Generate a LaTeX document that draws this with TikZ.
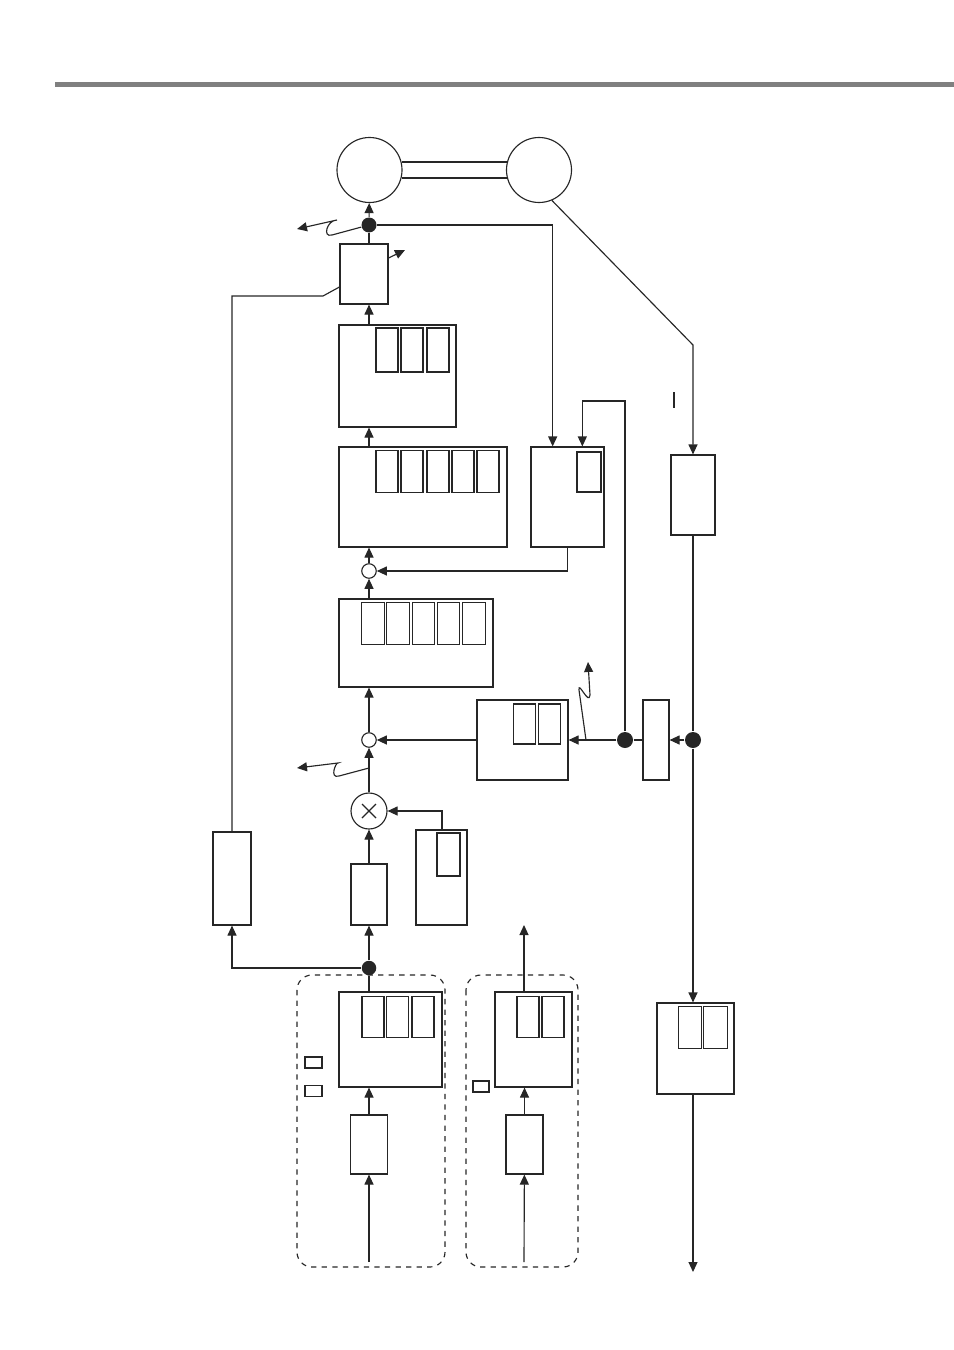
\documentclass[tikz,border=0pt]{standalone}
\usepackage{tikz}
\usetikzlibrary{arrows.meta,calc}

\begin{document}
\begin{tikzpicture}[x=0.2mm,y=-0.2mm,color=black!85,line width=0.65pt,
  >={Triangle[length=2mm,width=1.8mm]},
  blk/.style={draw,rectangle,inner sep=0pt},
  sub/.style={draw,rectangle,inner sep=0pt,minimum width=4.5mm,minimum height=8.3mm},
  dot/.style={circle,fill,inner sep=0pt,minimum size=3mm},
  sumc/.style={circle,draw,fill=white,inner sep=0pt,minimum size=2.9mm}]
  \useasboundingbox (0,0) rectangle (954,1350);
  % header rule
  \draw[line width=1mm,gray] (55,85) -- (954,85);

  % gears and shaft
  \node[circle,draw,inner sep=0pt,minimum size=13mm] (gearL) at (369.5,170) {};
  \node[circle,draw,inner sep=0pt,minimum size=13mm] (gearR) at (539,170) {};
  \draw (gearL.14) -- (gearR.166);
  \draw (gearL.-14) -- (gearR.-166);

  % main chain
  \node[dot] (dotTop) at (369,225) {};
  \node[blk,minimum width=9.6mm,minimum height=12mm] (amp) at (364,274) {};
  \node[blk,minimum width=23.4mm,minimum height=20.4mm] (ctrlA) at (397.5,376) {};
  \foreach \x [count=\i] in {387,412,438}
    \node[sub,minimum width=4.4mm,minimum height=8.8mm] (ctrlA\i) at (\x,350) {};
  \node[blk,minimum width=33.6mm,minimum height=20mm] (ctrlB) at (423,497) {};
  \foreach \x [count=\i] in {387,412,438,463,488}
    \node[sub,minimum width=4.4mm] (ctrlB\i) at (\x,471.5) {};
  \node[blk,minimum width=14.6mm,minimum height=20mm] (ctrlS) at (567.5,497) {};
  \node[sub,minimum width=4.8mm,minimum height=8mm] (ctrlS1) at (589,472) {};
  \node[sumc] (sumA) at (369,571) {};
  \node[blk,minimum width=30.8mm,minimum height=17.6mm] (ctrlC) at (416,643) {};
  \foreach \x [count=\i] in {373,398,423.5,448.5,474}
    \node[sub] (ctrlC\i) at (\x,623.5) {};
  \node[sumc] (sumB) at (369,740) {};
  \node[blk,minimum width=18.2mm,minimum height=16mm] (ctrlD) at (522.5,740) {};
  \foreach \x [count=\i] in {524.5,549.5}
    \node[sub,minimum height=8mm] (ctrlD\i) at (\x,724) {};
  \node[dot,minimum size=3.2mm] (dotM) at (625,740) {};
  \node[blk,minimum width=5.2mm,minimum height=16mm] (sens) at (656,740) {};
  \node[dot,minimum size=3.2mm] (dotR) at (693,740) {};
  \node[blk,minimum width=8.8mm,minimum height=16mm] (enc) at (693,495) {};
  \node[circle,draw,inner sep=0pt,minimum size=7.2mm] (mult) at (369,811) {};
  \draw ($(mult)+(-7,-7)$) -- ($(mult)+(7,7)$);
  \draw ($(mult)+(-7,7)$) -- ($(mult)+(7,-7)$);
  \node[blk,minimum width=7.2mm,minimum height=12.2mm] (gain) at (369,894.5) {};
  \node[blk,minimum width=10.2mm,minimum height=19mm] (ref) at (441.5,877.5) {};
  \node[sub,minimum width=4.6mm,minimum height=8.6mm] (ref1) at (448.5,854.5) {};
  \node[blk,minimum width=7.6mm,minimum height=18.6mm] (lim) at (232,878.5) {};
  \node[dot,minimum size=2.9mm] (dotB) at (369,968) {};

  % input groups
  \draw[dashed,rounded corners=3mm] (297,975) rectangle (445,1267);
  \draw[dashed,rounded corners=3mm] (466,975) rectangle (578,1267);
  \node[blk,minimum width=20.6mm,minimum height=19mm] (inA) at (390.5,1039.5) {};
  \foreach \x [count=\i] in {373,397.5,423}
    \node[sub,minimum width=4.4mm] (inA\i) at (\x,1017) {};
  \node[blk,minimum width=3.4mm,minimum height=2.2mm] (keyA) at (313.5,1062.5) {};
  \node[blk,minimum width=3.4mm,minimum height=2.3mm] (keyB) at (313.5,1091) {};
  \node[blk,minimum width=7.4mm,minimum height=11.8mm] (srcA) at (369,1144.5) {};
  \node[blk,minimum width=15.4mm,minimum height=19mm] (inB) at (533.5,1039.5) {};
  \foreach \x [count=\i] in {528,553}
    \node[sub,minimum width=4.4mm] (inB\i) at (\x,1017) {};
  \node[blk,minimum width=3.2mm,minimum height=2.2mm] (keyC) at (481,1086.5) {};
  \node[blk,minimum width=7.4mm,minimum height=11.8mm] (srcB) at (524.5,1144.5) {};

  % output block
  \node[blk,minimum width=15.4mm,minimum height=18.2mm] (outR) at (695.5,1048.5) {};
  \foreach \x [count=\i] in {690,715.5}
    \node[sub,minimum width=4.7mm] (outR\i) at (\x,1027.5) {};

  \coordinate (feedA) at (369,1262);
  \coordinate (feedB) at (524,1262);
  \coordinate (outB) at (524,925);
  \coordinate (outEnd) at (693,1272);
  \coordinate (sIn1) at ($(ctrlS.north west)!0.3!(ctrlS.north east)$);
  \coordinate (sIn2) at ($(ctrlS.north west)!0.7!(ctrlS.north east)$);

  % forward path
  \draw[->] (dotTop) -- (gearL);
  \draw (amp.north -| dotTop) -- (dotTop);
  \draw[->] (ctrlA.north -| dotTop) -- (amp.south -| dotTop);
  \draw[->] (ctrlB.north -| dotTop) -- (ctrlA.south -| dotTop);
  \draw[->] (sumA) -- (ctrlB.south -| sumA);
  \draw[->] (ctrlC.north -| sumA) -- (sumA);
  \draw[->] (sumB) -- (ctrlC.south -| sumB);
  \draw[->] (mult) -- (sumB);
  \draw[->] (gain) -- (mult);
  \draw[->] (dotB) -- (gain);
  \draw (inA.north -| dotB) -- (dotB);
  \draw[->] (srcA) -- (inA.south -| srcA);
  \draw[->] (feedA) -- (srcA);
  \draw[->] (ref.north -| 442,0) |- (mult);
  \draw[->] (dotB) -| (lim);
  \draw (amp.west |- 0,287) -- (323,296) -| (lim);
  \draw[->] (amp.east |- 0,258) -- (405,250);

  % second input
  \draw[->] (inB.north -| outB) -- (outB);
  \draw[->] (srcB) -- (inB.south -| srcB);
  \draw[->] (feedB) -- (srcB);

  % feedback loops
  \draw[->] (dotTop) -| (sIn1);
  \draw[->] (dotM) -- (dotM |- 0,401) -| (sIn2);
  \draw[->] (ctrlS.south) |- (sumA);
  \draw (dotM) -- (sens);
  \draw[->] (dotR) -- (sens);
  \draw[->] (dotM) -- (ctrlD);
  \draw[->] (ctrlD) -- (sumB);

  % load side
  \draw[->] (gearR.-67) -- (693,345) -- (enc.north);
  \draw (enc) -- (dotR);
  \draw[->] (dotR) -- (outR.north -| dotR);
  \draw[->] (outR.south -| dotR) -- (outEnd);
  \draw (674,392) -- (674,408);

  % disturbances
  \draw[->] (dotTop) -- (332,235) .. controls (322,238) and (327,220) .. (337,220) -- (297,229);
  \draw[->] (369,768) -- (339,776) .. controls (329,779) and (336,762) .. (338,763) -- (297,768);
  \draw[->] (586,740) -- (579,690) .. controls (578,680) and (589,706) .. (590,695) -- (588,662);
\end{tikzpicture}
\end{document}
